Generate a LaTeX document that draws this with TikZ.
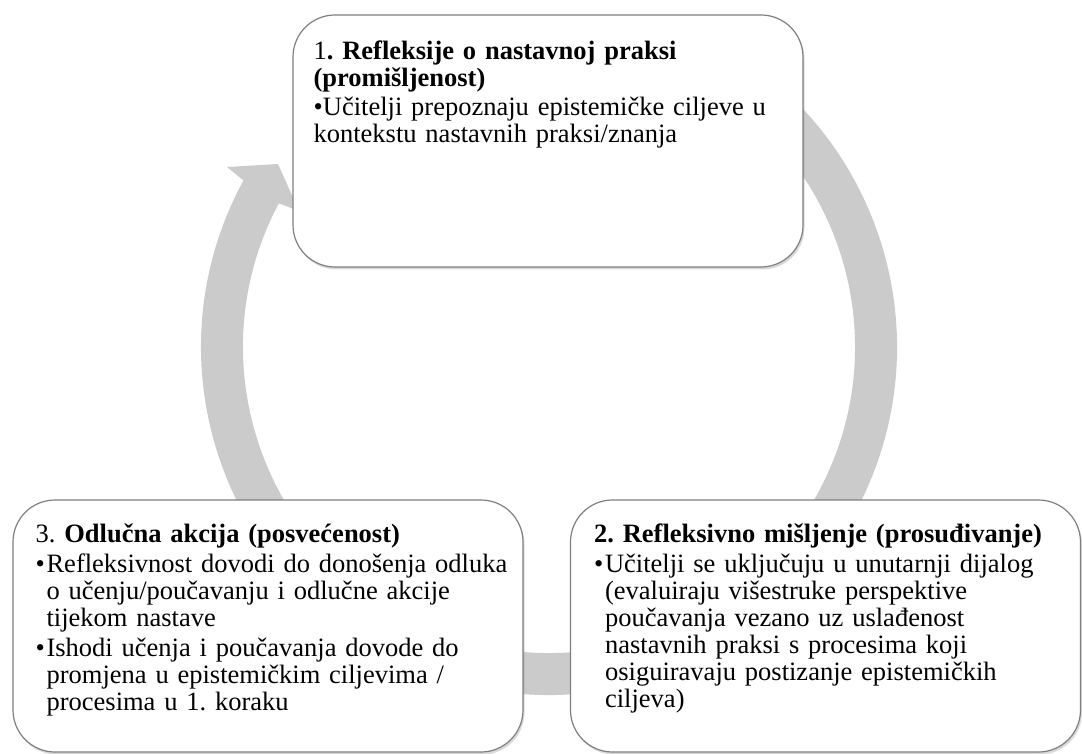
\documentclass[tikz,border=0pt]{standalone}
\usepackage{fontspec}
\setmainfont{Liberation Serif}
\usetikzlibrary{shadows}
\frenchspacing

\definecolor{ringgray}{HTML}{CBCBCB}
\definecolor{edgegray}{HTML}{7F7F7F}

\tikzset{
  stagebox/.style={draw=edgegray, line width=1.2pt, fill=white, rounded corners=42pt,
    minimum width=510pt, minimum height=252pt, inner sep=0pt,
    drop shadow={shadow xshift=1.5pt, shadow yshift=-2.5pt, opacity=0.3}},
  stagetext/.style={anchor=base west, inner sep=0pt, text width=488pt, align=left,
    font=\fontsize{26.5}{27}\selectfont}
}
\newcommand{\stageitem}[1]{\par\vspace{3pt}\hangindent=11pt\hangafter=1\noindent
  \makebox[11pt][l]{\textbullet}#1\par}

\begin{document}
\begin{tikzpicture}[x=1pt,y=-1pt]
  \useasboundingbox (0,0) rectangle (1082,754);

  % ring with arrow head
  \coordinate (hub) at (549,347);
  \fill[ringgray] ([shift={(hub)}]-60:348) arc[start angle=-60, end angle=208.6, radius=348]
     -- (227,167) -- (278,164) -- (299,211)
     -- ([shift={(hub)}]208:306) arc[start angle=208, end angle=-60, radius=306] -- cycle;

  % stage 1
  \node[stagebox] (b1) at (548,141) {};
  \node[stagetext] (t1) at ([shift={(21,45)}]b1.north west)
    {\noindent 1\textbf{. Refleksije o nastavnoj praksi}\newline\textbf{(promišljenost)}%
     \par\vspace{2pt}\noindent\textbullet Učitelji prepoznaju epistemičke ciljeve u\newline
     kontekstu nastavnih praksi/znanja\par};

  % stage 2
  \node[stagebox] (b2) at (825.5,626) {};
  \node[stagetext] (t2) at ([shift={(24,43)}]b2.north west)
    {\noindent\textbf{2. Refleksivno mišljenje (prosuđivanje)}%
     \stageitem{Učitelji se uključuju u unutarnji dijalog\newline
     (evaluiraju višestruke perspektive\newline
     poučavanja vezano uz uslađenost\newline
     nastavnih praksi s procesima koji\newline
     osiguiravaju postizanje epistemičkih\newline
     ciljeva)}};

  % stage 3
  \node[stagebox] (b3) at (268,626) {};
  \node[stagetext] (t3) at ([shift={(23,43)}]b3.north west)
    {\noindent 3. \textbf{Odlučna akcija (posvećenost)}%
     \stageitem{Refleksivnost dovodi do donošenja odluka\newline
     o učenju/poučavanju i odlučne akcije\newline
     tijekom nastave}%
     \stageitem{Ishodi učenja i poučavanja dovode do\newline
     promjena u epistemičkim ciljevima /\newline
     procesima u 1. koraku}};
\end{tikzpicture}
\end{document}
